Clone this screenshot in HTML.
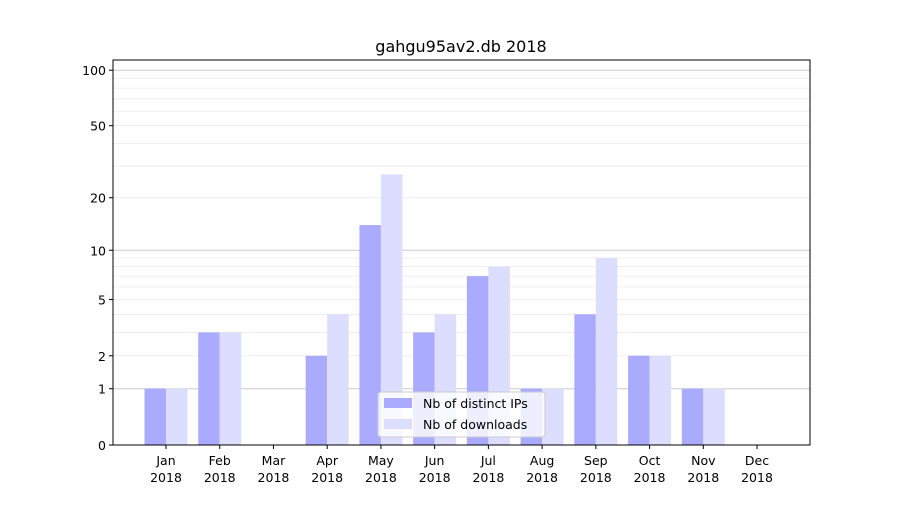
<!DOCTYPE html>
<html><head><meta charset="utf-8">
<style>body{margin:0;background:#fff}svg{font-family:"DejaVu Sans","Liberation Sans",sans-serif}</style>
</head><body>
<svg id="chart" width="900" height="500" xmlns="http://www.w3.org/2000/svg">
<rect width="900" height="500" fill="#fff"/>
<text x="461" y="52" font-size="16" text-anchor="middle">gahgu95av2.db 2018</text>
<g id="grid"></g><g id="bars"></g><g id="axes"></g>
<g>
<rect x="378" y="392" width="167" height="45" fill="#fff" fill-opacity="0.8" stroke="#ccc" rx="3"/>
<rect x="384" y="398" width="28" height="10" fill="#aaaaff"/>
<text x="423" y="408" font-size="12.5">Nb of distinct IPs</text>
<rect x="384" y="419" width="28" height="10" fill="#ddddff"/>
<text x="423" y="429" font-size="12.5">Nb of downloads</text>
</g>
</svg>
<script>
const months = ["Jan","Feb","Mar","Apr","May","Jun","Jul","Aug","Sep","Oct","Nov","Dec"];
const ips = [1,3,0,2,14,3,7,1,4,2,1,0];
const downloads = [1,3,0,4,27,4,8,1,9,2,1,0];
const yTicks = [0,1,2,5,10,20,50,100];
const NS="http://www.w3.org/2000/svg";
const L=113,R=810,T=60,B=445;
function y(v){return B-187*Math.log10(1+v);}
function x(i){return 166+i*53.73;}
function mk(tag,attrs,parent){const e=document.createElementNS(NS,tag);for(const k in attrs)e.setAttribute(k,attrs[k]);parent.appendChild(e);return e;}
const grid=document.getElementById('grid'),bars=document.getElementById('bars'),axes=document.getElementById('axes');
const minors=[2,3,4,5,6,7,8,9,20,30,40,50,60,70,80,90];
minors.forEach(v=>{const l=mk('line',{x1:L,x2:R,y1:y(v),y2:y(v),stroke:'#ebebeb','stroke-width':0.8},grid);

});
[1,10,100].forEach(v=>{const l=mk('line',{x1:L,x2:R,y1:y(v),y2:y(v),stroke:'#cccccc','stroke-width':1},grid);

});
const bw=21.5;
months.forEach((m,i)=>{
 if(ips[i]>0){const r=mk('rect',{x:x(i)-bw,y:y(ips[i]),width:bw,height:B-y(ips[i]),fill:'#aaaaff'},bars);
 
 }
 if(downloads[i]>0){const r=mk('rect',{x:x(i),y:y(downloads[i]),width:bw,height:B-y(downloads[i]),fill:'#ddddff'},bars);
 
 }
 mk('line',{x1:x(i),x2:x(i),y1:B,y2:B+4,stroke:'#000'},axes);
 const t=mk('text',{x:x(i),y:B+20,'font-size':12.5,'text-anchor':'middle'},axes);t.textContent=m;
 
 
 const t2=mk('text',{x:x(i),y:B+37,'font-size':12.5,'text-anchor':'middle'},axes);t2.textContent='2018';
 
 
});
yTicks.forEach(v=>{mk('line',{x1:L-4,x2:L,y1:y(v),y2:y(v),stroke:'#000'},axes);
 const t=mk('text',{x:L-7,y:y(v)+5,'font-size':12.5,'text-anchor':'end'},axes);t.textContent=v;
 
 });
const f=mk('rect',{x:L,y:T,width:R-L,height:B-T,fill:'none',stroke:'#000','stroke-width':1},axes);


</script>
</body></html>
